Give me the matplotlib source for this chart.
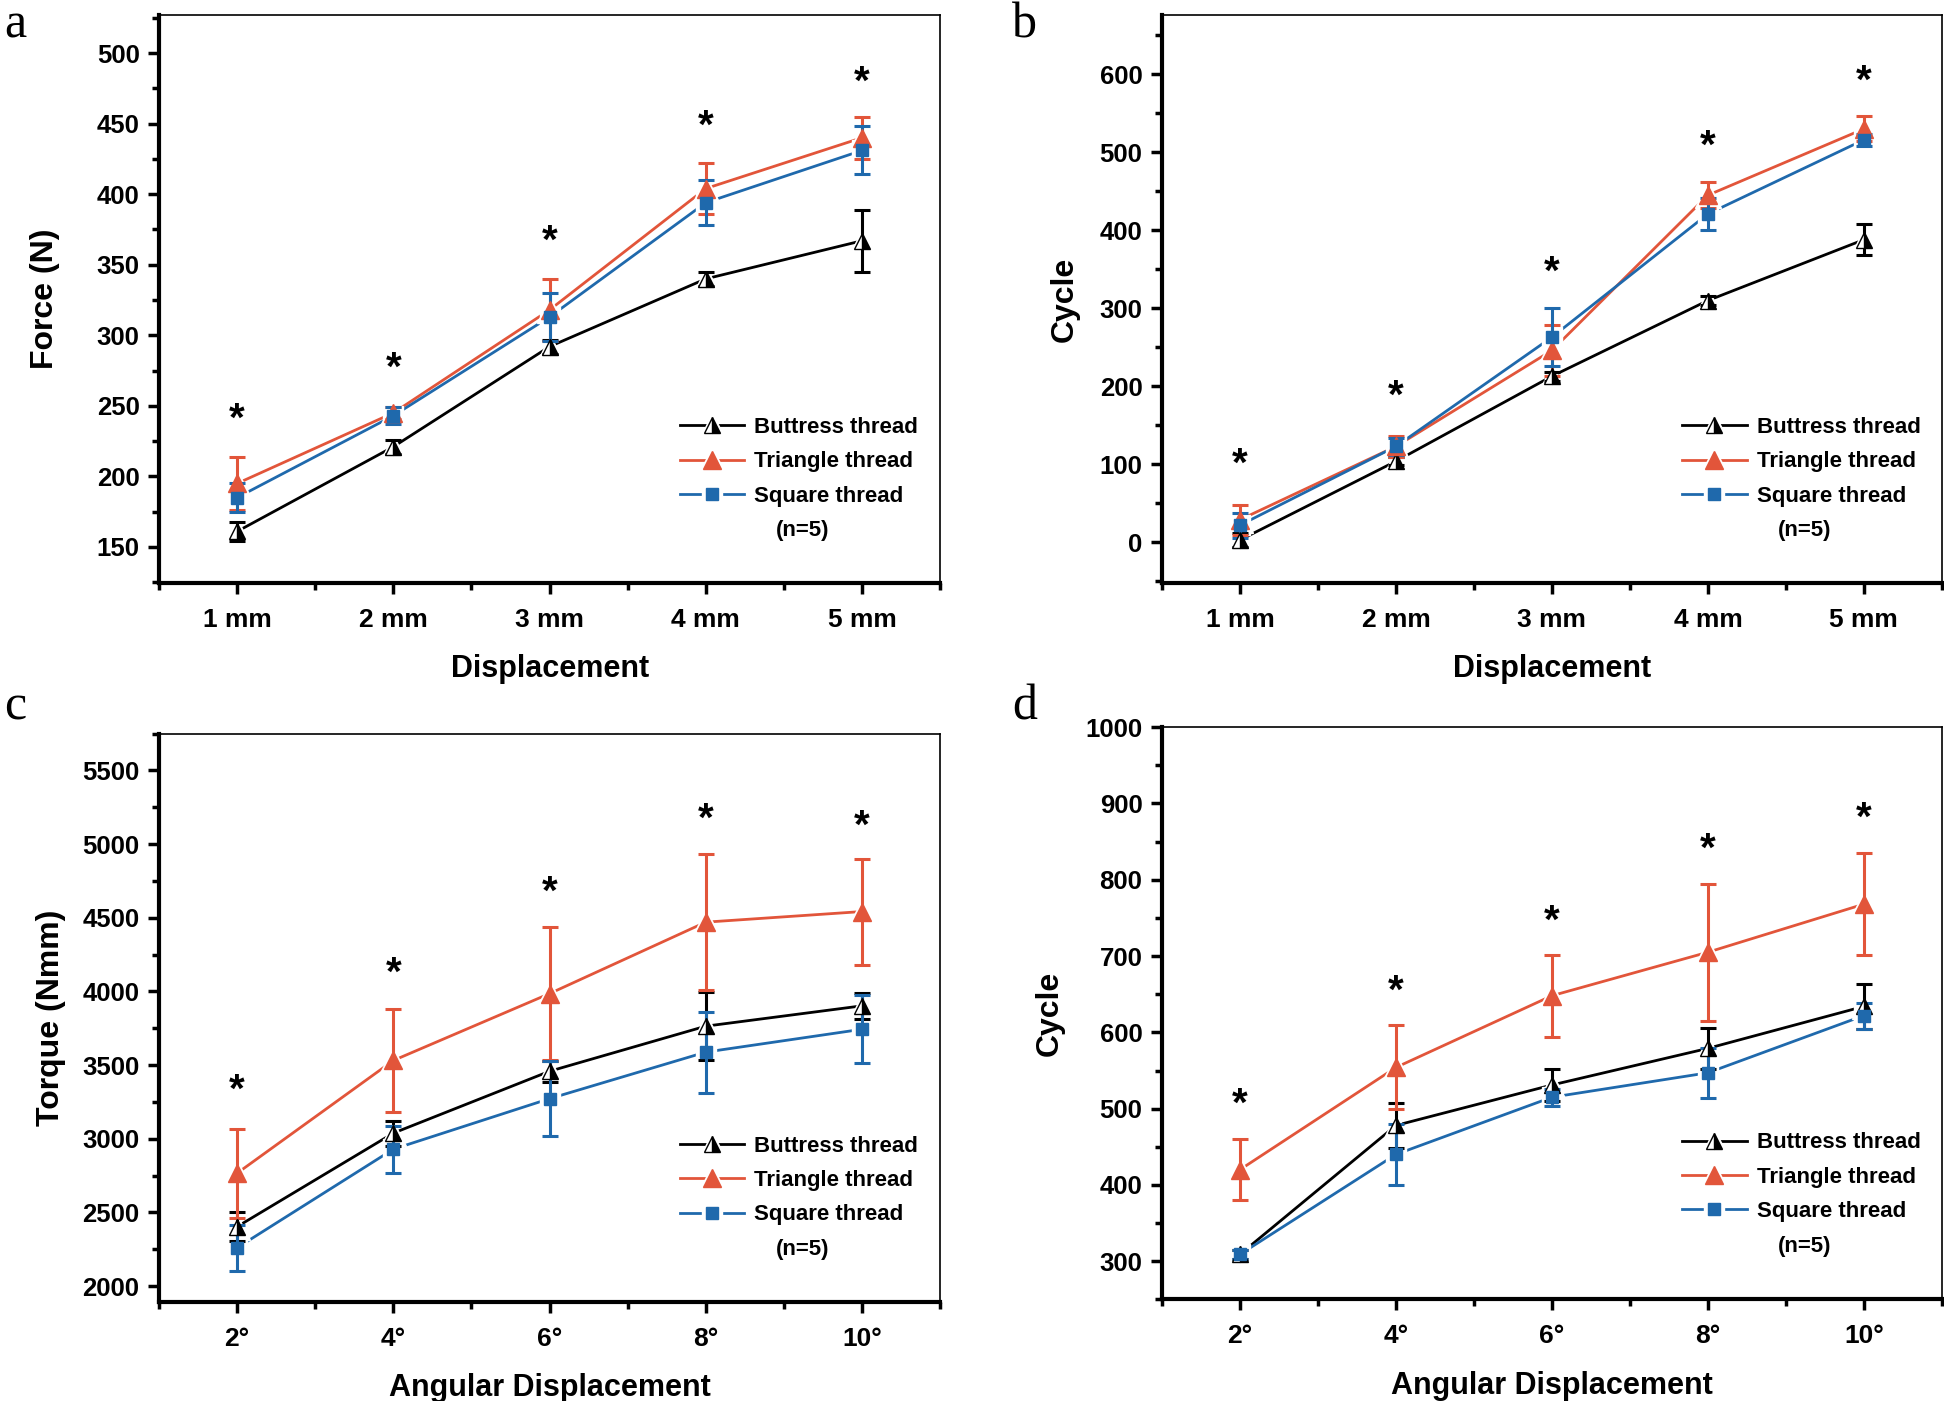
# Pull-out force / cycles for three thread designs (n=5)
import numpy as np
import matplotlib.pyplot as plt
from matplotlib.ticker import MultipleLocator
from matplotlib.lines import Line2D
from matplotlib.legend_handler import HandlerTuple

plt.rcParams['font.family'] = ['Liberation Sans', 'DejaVu Sans']
plt.rcParams['font.weight'] = 'bold'

disp_labels = ['1 mm', '2 mm', '3 mm', '4 mm', '5 mm']
ang_labels = ['2°', '4°', '6°', '8°', '10°']
names = ['Buttress thread', 'Triangle thread', 'Square thread']

# panel a: force (N) vs displacement
force_butt = [161, 221, 292, 340, 367]
force_butt_sd = [7, 5, 5, 5, 22]
force_tri = [195, 245, 318, 404, 440]
force_tri_sd = [19, 4, 22, 18, 15]
force_sq = [185, 243, 313, 394, 431]
force_sq_sd = [10, 6, 17, 16, 17]
force_star = [246, 282, 372, 454, 485]

# panel b: cycles vs displacement
cyc_butt = [3, 104, 213, 310, 388]
cyc_butt_sd = [9, 5, 6, 6, 20]
cyc_tri = [29, 123, 246, 445, 530]
cyc_tri_sd = [19, 14, 33, 17, 16]
cyc_sq = [22, 123, 263, 421, 516]
cyc_sq_sd = [16, 11, 37, 20, 8]
cyc_star = [110, 197, 356, 518, 601]

# panel c: torque (Nmm) vs angular displacement
torq_butt = [2403, 3038, 3458, 3764, 3902]
torq_butt_sd = [100, 85, 70, 230, 90]
torq_tri = [2766, 3531, 3985, 4470, 4542]
torq_tri_sd = [303, 350, 450, 460, 360]
torq_sq = [2260, 2929, 3272, 3588, 3743]
torq_sq_sd = [155, 160, 255, 275, 230]
torq_star = [3385, 4179, 4724, 5220, 5177]

# panel d: cycles vs angular displacement
acyc_butt = [309, 478, 531, 579, 634]
acyc_butt_sd = [6, 30, 21, 27, 30]
acyc_tri = [420, 554, 648, 705, 768]
acyc_tri_sd = [40, 55, 54, 90, 67]
acyc_sq = [309, 440, 515, 547, 622]
acyc_sq_sd = [6, 40, 11, 33, 17]
acyc_star = [516, 664, 756, 850, 891]

red = '#E2553A'
blue = '#1F69AC'
colors = ['black', red, blue]

fig = plt.figure(figsize=(19.44, 14.01), dpi=100)
axes = [fig.add_axes([0.0818, 0.5839, 0.4018, 0.4054]),
        fig.add_axes([0.5977, 0.5839, 0.4012, 0.4054]),
        fig.add_axes([0.0818, 0.0710, 0.4018, 0.4054]),
        fig.add_axes([0.5977, 0.0725, 0.4012, 0.4085])]

markers = [dict(marker='^', fillstyle='right', markerfacecolor='black',
                markerfacecoloralt='white', markeredgecolor='black', markersize=12),
           dict(marker='^', markersize=13, markerfacecolor=red, markeredgecolor=red),
           dict(marker='s', markersize=9, markerfacecolor=blue, markeredgecolor=blue)]
halo_size = [18, 19, 15]


def panel(ax, series, stars, xlabels, xtitle, ytitle, ylim, ymajor, ylab_x):
    x = np.arange(1, 6)
    handles = []
    for i, ((y, sd), mk, c) in enumerate(zip(series, markers, colors)):
        # layers: lines < white halos (gap round markers) < error bars < markers
        line, = ax.plot(x, y, color=c, lw=2, zorder=2 + i * 0.1)
        halo, = ax.plot(x, y, ls='none', marker=mk['marker'], ms=halo_size[i],
                        mfc='white', mec='white', zorder=2.5)
        ax.errorbar(x, y, yerr=sd, fmt='none', ecolor=c, capsize=6, capthick=2.2,
                    elinewidth=2.2, zorder=2.6 + i * 0.1)
        pts, = ax.plot(x, y, ls='none', zorder=3 + i * 0.1, **mk)
        handles.append((line, halo, pts))
    for xi, s in zip(x, stars):
        ax.annotate('*', xy=(xi, s), xytext=(0, -14), textcoords='offset points',
                    ha='center', va='baseline', fontsize=29, fontweight='bold')
    ax.set_xlim(0.5, 5.5)
    ax.set_ylim(*ylim)
    ax.set_xticks(x)
    ax.set_xticklabels(xlabels)
    ax.xaxis.set_minor_locator(MultipleLocator(0.5))
    ax.yaxis.set_major_locator(MultipleLocator(ymajor))
    ax.yaxis.set_minor_locator(MultipleLocator(ymajor / 2))
    ax.tick_params(which='both', direction='out', width=2.5, top=False, right=False)
    ax.tick_params(which='major', length=8, labelsize=18.5, pad=6)
    ax.tick_params(axis='x', which='major', labelsize=19, pad=10)
    ax.tick_params(which='minor', length=5)
    for s in ['left', 'bottom']:
        ax.spines[s].set_linewidth(3)
    for s in ['top', 'right']:
        ax.spines[s].set_linewidth(1.2)
    ax.set_xlabel(xtitle, fontsize=22, fontweight='bold', labelpad=16)
    ax.set_ylabel(ytitle, fontsize=23, fontweight='bold')
    ax.yaxis.set_label_coords(ylab_x, 0.5)
    ax.legend(handles, names, loc='upper left', bbox_to_anchor=(0.667, 0.292), frameon=False,
              fontsize=16, handlelength=2.9, handletextpad=0.45, labelspacing=0.6,
              borderpad=0, borderaxespad=0,
              handler_map={tuple: HandlerTuple(ndivide=1)})
    ax.text(0.824, 0.092, '(n=5)', transform=ax.transAxes, ha='center', va='center',
            fontsize=16)


panel(axes[0], [(force_butt, force_butt_sd), (force_tri, force_tri_sd), (force_sq, force_sq_sd)],
      force_star, disp_labels, 'Displacement', 'Force (N)', (124.5, 527), 50, -0.127)
panel(axes[1], [(cyc_butt, cyc_butt_sd), (cyc_tri, cyc_tri_sd), (cyc_sq, cyc_sq_sd)],
      cyc_star, disp_labels, 'Displacement', 'Cycle', (-52, 676), 100, -0.105)
panel(axes[2], [(torq_butt, torq_butt_sd), (torq_tri, torq_tri_sd), (torq_sq, torq_sq_sd)],
      torq_star, ang_labels, 'Angular Displacement', 'Torque (Nmm)', (1895, 5750), 500, -0.119)
panel(axes[3], [(acyc_butt, acyc_butt_sd), (acyc_tri, acyc_tri_sd), (acyc_sq, acyc_sq_sd)],
      acyc_star, ang_labels, 'Angular Displacement', 'Cycle', (250, 1000), 100, -0.125)

for lab, (fx, fy) in zip('abcd', [(0.008, 0.982), (0.527, 0.982), (0.008, 0.495), (0.527, 0.495)]):
    fig.text(fx, fy, lab, fontsize=36, family=['Liberation Serif', 'DejaVu Serif'],
             fontweight='normal', ha='center', va='center')

fig.savefig('out.png', dpi=100)
